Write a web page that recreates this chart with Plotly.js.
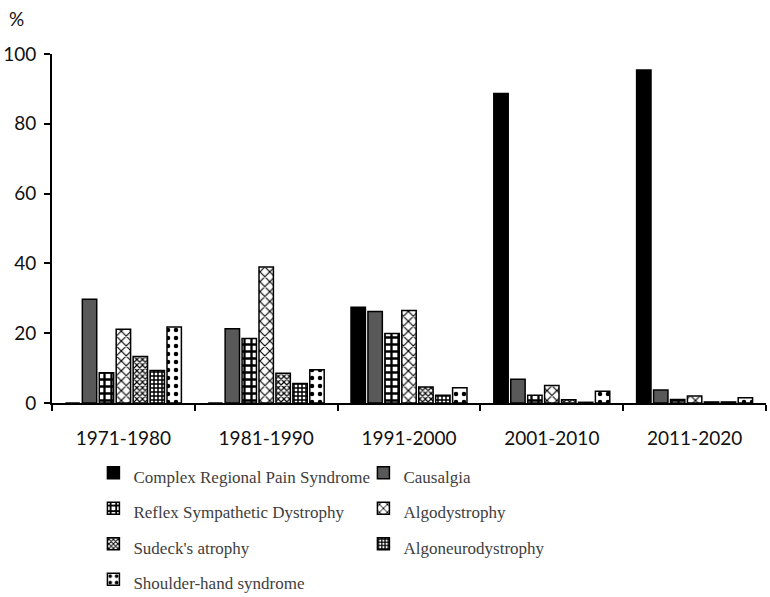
<!DOCTYPE html>
<html>
<head>
<meta charset="utf-8">
<script src="https://cdn.plot.ly/plotly-3.0.1.min.js"></script>
<style>html,body{margin:0;padding:0;background:#fff;}#chart{width:770px;height:597px;}</style>
</head>
<body>
<div id="chart"></div>
<script>
const decades = ['1971-1980', '1981-1990', '1991-2000', '2001-2010', '2011-2020'];
const crps = [0, 0, 27.4, 88.7, 95.4];
const causalgia = [29.7, 21.3, 26.2, 6.8, 3.7];
const rsd = [8.7, 18.5, 19.9, 2.2, 1.0];
const algodystrophy = [21.1, 39.0, 26.5, 5.0, 2.0];
const sudeck = [13.3, 8.5, 4.6, 0.9, 0.3];
const algoneuro = [9.3, 5.6, 2.2, 0.2, 0.3];
const shoulderHand = [21.8, 9.5, 4.4, 3.4, 1.5];

const names = ['Complex Regional Pain Syndrome', 'Causalgia', 'Reflex Sympathetic Dystrophy',
  'Algodystrophy', "Sudeck's atrophy", 'Algoneurodystrophy', 'Shoulder-hand syndrome'];
const series = [crps, causalgia, rsd, algodystrophy, sudeck, algoneuro, shoulderHand];
const styles = [
  {color: '#000000'},
  {color: '#595959'},
  {color: '#ffffff', pattern: {shape: '+', fgcolor: '#000', bgcolor: '#fff', size: 7, solidity: 0.55}},
  {color: '#ffffff', pattern: {shape: 'x', fgcolor: '#000', bgcolor: '#fff', size: 7, solidity: 0.3}},
  {color: '#ffffff', pattern: {shape: 'x', fgcolor: '#000', bgcolor: '#fff', size: 4, solidity: 0.5}},
  {color: '#ffffff', pattern: {shape: '+', fgcolor: '#000', bgcolor: '#fff', size: 4, solidity: 0.6}},
  {color: '#ffffff', pattern: {shape: '.', fgcolor: '#000', bgcolor: '#fff', size: 8, solidity: 0.25}}
];

const traces = series.map((vals, i) => ({
  type: 'bar',
  name: '<span style="font-size:17px">' + names[i] + '</span>',
  x: decades,
  y: vals,
  marker: Object.assign({line: {color: '#000', width: 1.5}}, styles[i]),
  hoverinfo: 'x+y'
}));

const tickFont = {size: 19, family: 'Lato, Open Sans, sans-serif', color: '#111'};

const layout = {
  width: 770, height: 597,
  margin: {l: 52, r: 4, t: 54, b: 194, autoexpand: false},
  paper_bgcolor: '#fff', plot_bgcolor: '#fff',
  barmode: 'group',
  bargap: 0.17,
  bargroupgap: 0.15,
  font: {family: 'Lato, Open Sans, sans-serif', color: '#000'},
  xaxis: {
    type: 'category',
    showline: true, linecolor: '#000', linewidth: 2,
    ticks: 'outside', tickson: 'boundaries', ticklen: 6, tickwidth: 2, tickcolor: '#000',
    ticklabelstandoff: 17,
    tickfont: tickFont,
    showgrid: false, zeroline: false
  },
  yaxis: {
    range: [0, 100],
    tickvals: [0, 20, 40, 60, 80, 100],
    showline: true, linecolor: '#000', linewidth: 2,
    ticks: 'outside', ticklen: 6, tickwidth: 2, tickcolor: '#000',
    ticklabelstandoff: 4,
    tickfont: tickFont,
    showgrid: false, zeroline: false
  },
  annotations: [{
    text: '%', xref: 'paper', yref: 'paper', x: -0.05, y: 1.103, xanchor: 'center', yanchor: 'middle',
    showarrow: false, font: {size: 19, family: 'Lato, Open Sans, sans-serif', color: '#111'}
  }],
  showlegend: true,
  legend: {
    orientation: 'h',
    x: 0.058, xanchor: 'left',
    y: -0.135, yanchor: 'top',
    entrywidth: 225,
    traceorder: 'normal',
    font: {family: 'Liberation Serif, serif', size: 25, color: '#404040'},
    itemwidth: 30,
    tracegroupgap: 0
  }
};

Plotly.newPlot('chart', traces, layout, {displayModeBar: false, staticPlot: true});
</script>
</body>
</html>
